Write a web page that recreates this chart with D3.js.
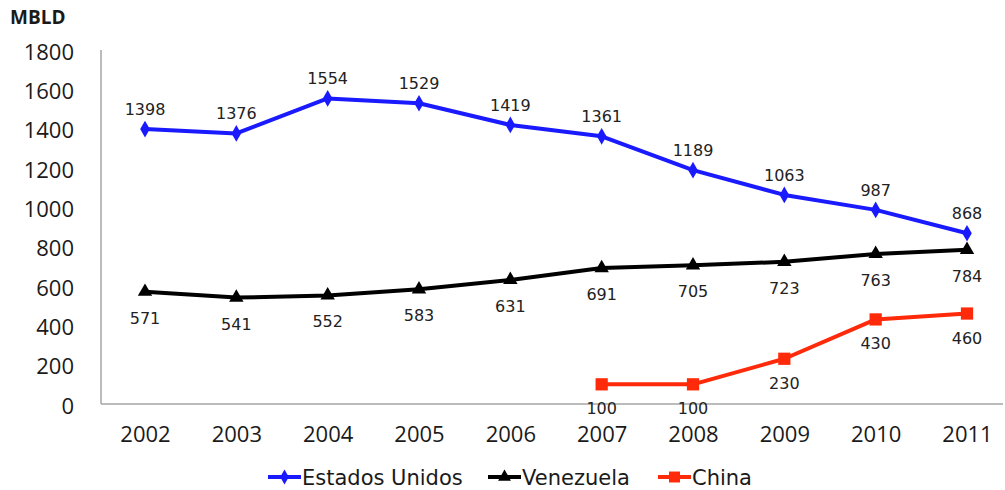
<!DOCTYPE html>
<html>
<head>
<meta charset="utf-8">
<script src="https://d3js.org/d3.v7.min.js"></script>
<style>
  body { margin: 0; background: #fff; }
  svg { display: block; }
</style>
</head>
<body>
<div id="chart"></div>
<script>
    // data
    var years = ["2002", "2003", "2004", "2005", "2006", "2007", "2008", "2009", "2010", "2011"];
    var estadosUnidos = [1398, 1376, 1554, 1529, 1419, 1361, 1189, 1063, 987, 868];
    var venezuela = [571, 541, 552, 583, 631, 691, 705, 723, 763, 784];
    var china = [null, null, null, null, null, 100, 100, 230, 430, 460];
    var yTicks = [0, 200, 400, 600, 800, 1000, 1200, 1400, 1600, 1800];

    var width = 1005, height = 490;

    var svg = d3.select("#chart")
        .append("svg")
        .attr("width", width)
        .attr("height", height);

    var x = d3.scalePoint()
        .domain(years)
        .range([145, 967]);
    var y = d3.scaleLinear()
        .domain([0, 1800])
        .range([404, 50]);

    // axis lines
    svg.append("line")
        .attr("x1", 101).attr("x2", 101)
        .attr("y1", y(1800)).attr("y2", y(0))
        .attr("stroke", "#a6a6a6").attr("stroke-width", 1.5);
    svg.append("line")
        .attr("x1", 101).attr("x2", 1003)
        .attr("y1", y(0)).attr("y2", y(0))
        .attr("stroke", "#a6a6a6").attr("stroke-width", 1.5);

    // y tick labels
    var yAxis = d3.axisLeft(y).tickValues(yTicks).tickFormat(d3.format("d")).tickSize(0).tickPadding(0);
    var gy = svg.append("g")
        .attr("transform", "translate(74,2)")
        .call(yAxis);
    gy.select(".domain").remove();
    gy.selectAll("text")
        .style("font-family", "'Open Sans', sans-serif")
        .style("font-size", "22px")
        .attr("fill", "#1a1a1a");

    // x tick labels
    var xAxis = d3.axisBottom(x).tickSize(0).tickPadding(0);
    var gx = svg.append("g")
        .attr("transform", "translate(0,426)")
        .call(xAxis);
    gx.select(".domain").remove();
    gx.selectAll("text")
        .style("font-family", "'Open Sans', sans-serif")
        .style("font-size", "22px")
        .attr("fill", "#1a1a1a");

    // unit title
    svg.append("text")
        .attr("x", 10)
        .attr("y", 24)
        .style("font-family", "'Open Sans', sans-serif")
        .style("font-size", "19px")
        .style("font-weight", "bold")
        .attr("fill", "#1a1a1a")
        .text("MBLD");

    var series = [
        { name: "Estados Unidos", values: estadosUnidos, color: "#1a1aff", symbol: d3.symbolDiamond, size: 80, labelDy: -14 },
        { name: "Venezuela", values: venezuela, color: "#000000", symbol: d3.symbolTriangle, size: 90, labelDy: 32 },
        { name: "China", values: china, color: "#ff2a0a", symbol: d3.symbolSquare, size: 150, labelDy: 30 }
    ];

    var line = d3.line()
        .defined(function (d) { return d.v != null; })
        .x(function (d) { return x(d.year); })
        .y(function (d) { return y(d.v); });

    series.forEach(function (s) {
        var pts = years.map(function (yr, i) { return { year: yr, v: s.values[i] }; });
        var shown = pts.filter(function (d) { return d.v != null; });

        svg.append("path")
            .datum(pts)
            .attr("d", line)
            .attr("fill", "none")
            .attr("stroke", s.color)
            .attr("stroke-width", 4)
            .attr("stroke-linejoin", "round");

        svg.selectAll(null)
            .data(shown)
            .enter().append("path")
            .attr("d", d3.symbol().type(s.symbol).size(s.size))
            .attr("transform", function (d) { return "translate(" + x(d.year) + "," + y(d.v) + ")"; })
            .attr("fill", s.color);

        svg.selectAll(null)
            .data(shown)
            .enter().append("text")
            .attr("x", function (d) { return x(d.year); })
            .attr("y", function (d) { return y(d.v) + s.labelDy; })
            .attr("text-anchor", "middle")
            .style("font-family", "'DejaVu Sans', sans-serif")
            .style("font-size", "16px")
            .attr("fill", "#222")
            .text(function (d) { return d.v; });
    });

    // legend
    var legendX = [268, 488, 658];
    series.forEach(function (s, i) {
        var g = svg.append("g").attr("transform", "translate(" + legendX[i] + ",477)");
        g.append("line")
            .attr("x1", 0).attr("x2", 33)
            .attr("stroke", s.color).attr("stroke-width", 4);
        g.append("path")
            .attr("d", d3.symbol().type(s.symbol).size(s.size * 0.8))
            .attr("transform", "translate(16.5,0)")
            .attr("fill", s.color);
        g.append("text")
            .attr("x", 34)
            .attr("y", 8)
            .style("font-family", "'DejaVu Sans', sans-serif")
            .style("font-size", "21px")
            .attr("fill", "#1a1a1a")
            .text(s.name);
    });
</script>
</body>
</html>
